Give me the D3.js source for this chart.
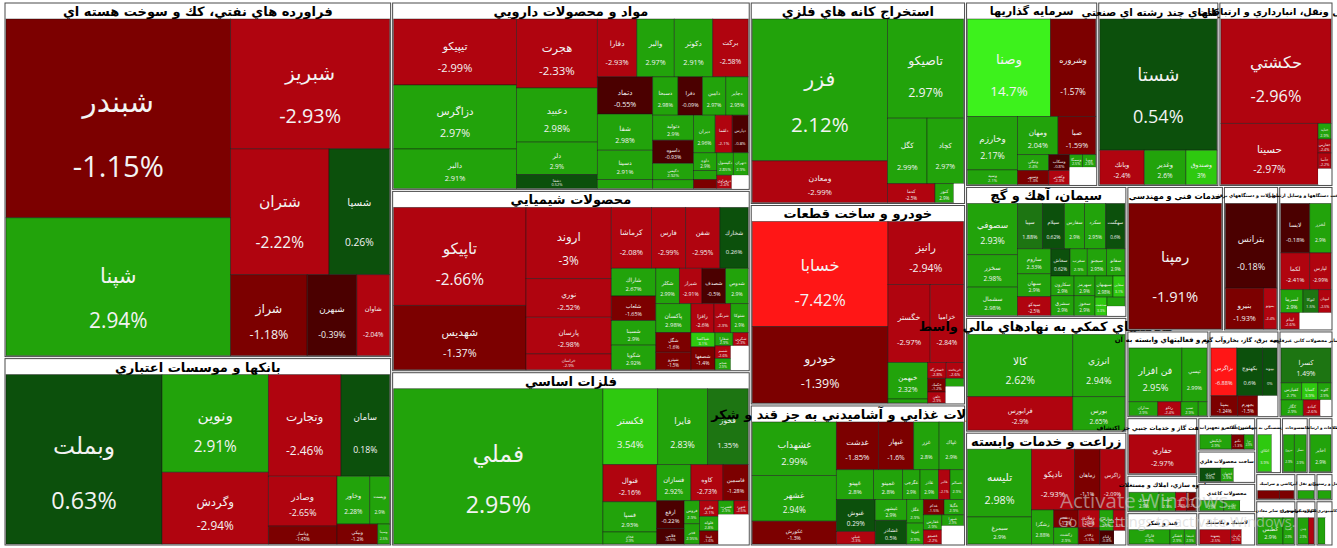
<!DOCTYPE html>
<html>
<head>
<meta charset="utf-8">
<script src="https://cdn.jsdelivr.net/npm/d3@7"></script>
<style>
  html, body { margin: 0; padding: 0; background: #fff; }
  svg { display: block; }
</style>
</head>
<body>
<svg id="map" width="1337" height="548"></svg>
<script>
// Market map treemap: sectors with a header band, one cell per symbol,
// area = market weight, colour = daily change bin.

const sectorNames = [
  "فراورده هاي نفتي، كك و سوخت هسته اي",
  "بانكها و موسسات اعتباري",
  "مواد و محصولات دارويي",
  "محصولات شيميايي",
  "فلزات اساسي",
  "استخراج كانه هاي فلزي",
  "خودرو و ساخت قطعات",
  "محصولات غذايي و آشاميدني به جز قند و شكر",
  "سرمايه گذاريها",
  "شركتهاي چند رشته اي صنعتي",
  "حمل ونقل، انبارداري و ارتباطات",
  "سيمان، آهك و گچ",
  "فعاليتهاي كمكي به نهادهاي مالي واسط",
  "زراعت و خدمات وابسته",
  "خدمات فني و مهندسي",
  "ماشين آلات و دستگاههاي برقي",
  "ساخت دستگاهها و وسايل ارتباطي",
  "رايانه و فعاليتهاي وابسته به آن",
  "عرضه برق، گاز، بخاروآب گرم",
  "ساير محصولات كاني غيرفلزي",
  "استخراج نفت گاز و خدمات جنبي جز اكتشاف",
  "انبوه سازي، املاك و مستغلات",
  "قند و شكر",
  "ماشين آلات و تجهيزات",
  "ساخت محصولات فلزي",
  "محصولات كاغذي",
  "لاستيك و پلاستيك",
  "بيمه وصندوق بازنشستگي به جزتامين اجتماعي",
  "منسوجات",
  "اطلاعات و ارتباطات",
  "كاشي و سراميك",
  "استخراج ساير معادن",
  "حمل و نقل آبي",
  "محصولات چوبي",
  "هتل و رستوران",
  "توليد محصولات كامپيوتري الكترونيكي ونوري"
];

// total weight of each sector block (header included)
const sectorSizes = [136611, 72369, 66946, 64440, 61934, 43215, 42785, 30100, 24156, 22143,
  20862, 20930, 18354, 18193, 13824, 7920, 7776, 7052, 6020, 4644, 4047, 2627, 2343,
  1914, 1856, 1682, 1914, 1425, 1485, 1375, 1080, 1800, 540, 900, 459, 765];

// how many sectors go in each strip (+ = column on the left, - = row on top)
const rootPlan = [2, 3, 3, -3, 3, -3, -3, 3, 4, -3, 2, 2, 2];

// [symbol, weight, change %]; an empty symbol is unused space
const oilCells = [["شبندر", 44974, -1.15], ["شپنا", 31188, 2.94], ["شبريز", 20800, -2.93],
  ["شتران", 12474, -2.22], ["شسپا", 7686, 0.26], ["شراز", 6237, -1.18], ["شبهرن", 4050, -0.39],
  ["شاوان", 2673, -2.04]];
const bankCells = [["وبملت", 26690, 0.63], ["ونوين", 10486, 2.91], ["وگردش", 7704, -2.94],
  ["وتجارت", 7446, -2.46], ["سامان", 4998, 0.18], ["وصادر", 3450, -2.65], ["وپاسار", 1242, -1.45],
  ["وخاور", 1584, 2.28], ["وپست", 960, 2.9], ["ونيكي", 820, -1.2], ["وسينا", 240, 2.5]];
const pharmaCells = [["تيپيكو", 8241, -2.99], ["دزاگرس", 7995, 2.97], ["دالبر", 4920, 2.91],
  ["هجرت", 5670, -2.33], ["دعبيد", 4455, 2.98], ["دلر", 2673, 2.9], ["دشفا", 1134, 0.52],
  ["دفارا", 2320, -2.93], ["والبر", 2204, 2.97], ["دكوثر", 2262, 2.91], ["بركت", 2088, -2.58],
  ["دتماد", 2090, -0.55], ["شفا", 2035, 2.98], ["دسينا", 1650, 2.91], ["دروز", 495, 2.94],
  ["دسبحا", 988, 2.98], ["دفرا", 950, -0.09], ["دامين", 912, 2.97], ["دجابر", 874, 2.95],
  ["دتوليد", 1040, 2.9], ["داسوه", 960, -0.93], ["دكيمي", 680, 2.92], ["دپخش", 360, 2.9],
  ["ديران", 828, 2.96], ["دلقما", 648, -2.1], ["دپارس", 612, -0.8],
  ["داوه", 420, 2.9], ["دابور", 210, 2.88], ["درازك", 210, -1.5],
  ["دكپسول", 380, 2.85], ["دتهران", 340, 2.9], ["دزهراوي", 200, -2.4], ["", 220, null]];
const chemCells = [["تاپيكو", 13068, -2.66], ["شهديس", 8580, -1.37],
  ["اروند", 6120, -3], ["نوري", 3315, -2.52], ["پارسان", 3145, -2.98], ["خراسان", 1360, -2.9],
  ["كرماشا", 2460, -2.08], ["فارس", 2100, -2.99], ["شفن", 2100, -2.95], ["شخارك", 1740, 0.26],
  ["شاراك", 1240, 2.67], ["شلعاب", 1100, -1.65], ["شسينا", 1100, 2.9], ["شگويا", 1100, 2.92],
  ["شكلر", 840, 2.99], ["شيراز", 805, -2.91], ["شصدف", 840, -0.5], ["شدوص", 805, 2.9],
  ["پاكسان", 1020, 2.98], ["شگل", 700, -1.6], ["شپترو", 620, -1.5],
  ["رافزا", 675, -2.6], ["شرنگي", 486, -2.3], ["شتوكا", 513, 2.9],
  ["شپاكسا", 345, 3.1], ["شصفها", 552, -1.4], ["شفارا", 240, 2.9], ["شكربن", 200, -2.3],
  ["شسم", 200, -2.6], ["شجم", 180, 2.9], ["", 420, null]];
const metalCells = [["فملي", 33127, 2.95],
  ["فكستر", 4235, 3.54], ["فايرا", 3850, 2.83], ["فخوز", 3157, 1.35],
  ["فنوال", 2035, -2.16], ["فسپا", 1650, 2.93], ["فجام", 660, 2.9],
  ["فسازان", 1258, 2.92], ["كاوه", 1184, -2.73], ["فاسمين", 925, -1.28],
  ["ارفع", 783, -0.22], ["فلامي", 435, -0.5],
  ["فروس", 360, 2.9], ["فجر", 315, 2.95], ["فالوم", 300, -2.1], ["فلوله", 280, 2.8],
  ["فپنتا", 250, -1.6], ["فسرب", 220, 2.9], ["فنورد", 200, -2.5], ["", 900, null]];
const miningCells = [["فزر", 19591, 2.12], ["ومعادن", 5754, -2.99], ["تاصيكو", 7700, 2.97],
  ["كگل", 2640, 2.99], ["كچاد", 2442, 2.97], ["كدما", 912, -2.5], ["كنور", 361, 2.9], ["", 190, null]];
const autoCells = [["خسابا", 14522, -7.42], ["خودرو", 10549, -1.39], ["رانيز", 4851, -2.94],
  ["خگستر", 3354, -2.97], ["خزاميا", 2652, -2.84], ["خبهمن", 1480, 2.32], ["خكار", 160, 2.9],
  ["خمحركه", 300, -2.8], ["خريخت", 280, -2.6], ["خكمك", 250, -1.2], ["خاهن", 200, -2.9],
  ["خفنر", 150, 2.9], ["", 300, null]];
const foodCells = [["غشهداب", 4536, 2.99], ["غشهر", 3864, 2.94], ["غكورش", 1932, -1.3],
  ["غدشت", 2021, -1.85], ["غبهار", 1692, -1.6], ["غزر", 1222, 2.8], ["غپاك", 1175, 2.9],
  ["غپينو", 1116, 2.8], ["غمينو", 870, 2.8], ["غگرجي", 522, 2.9], ["غاذر", 551, 2.9],
  ["غالبر", 348, -2.1], ["غسالم", 406, 2.9],
  ["غنوش", 1250, 0.29], ["غنيلي", 489, -2.3],
  ["غبشهر", 660, 2.9], ["غشاذر", 750, 0.5],
  ["غگل", 396, 2.9], ["غويتا", 350, 2.9], ["غدام", 320, -1.5], ["غگيلا", 300, 2.9],
  ["غفارس", 280, 2.9], ["غصينو", 260, -2.2], ["غمهرا", 240, 2.9], ["", 400, null]];
const investCells = [["وصنا", 8330, 14.7], ["وشروره", 4554, -1.57], ["وخارزم", 2750, 2.17],
  ["وسپه", 750, 2.1], ["ومهان", 1596, 2.04], ["صبا", 1482, -1.59], ["ونيكي", 510, 2.4],
  ["وسپهر", 450, -1.3], ["وسكاب", 340, -0.8], ["وكغدير", 300, -2.3], ["وسمگا", 170, 2.5],
  ["وپويا", 170, 2.9], ["", 465, null]];
const multiCells = [["شستا", 16226, 0.54], ["وبانك", 1610, -2.4], ["وغدير", 1505, 2.6], ["وصندوق", 1120, 3]];
const transportCells = [["حكشتي", 11766, -2.96], ["حسينا", 6076, -2.97], ["حتايد", 208, 2.9],
  ["حفارس", 182, -2.4], ["حآسا", 208, -2.2], ["", 208, null]];
const cementCells = [["سصوفي", 2352, 2.93], ["سخزر", 1488, 2.98], ["سشمال", 1296, 2.98],
  ["سپيا", 1040, 1.88], ["سيلام", 920, 0.62], ["سفارس", 840, 2.9], ["سكرد", 880, 2.95], ["سهگمت", 800, 0.6],
  ["ساروم", 768, 2.33], ["سبهان", 704, 2.9], ["سيدكو", 576, -2.5],
  ["سخاش", 480, 0.62], ["سغرب", 430, 2.9], ["سبجنو", 480, 2.95], ["سفانو", 460, 2.9],
  ["سكارون", 420, 2.9], ["سشرق", 420, 2.9],
  ["سهرمز", 380, 2.9], ["سخوز", 380, 2.9], ["سبهبهان", 350, 2.98], ["سقاين", 230, 3.1],
  ["سدشت", 200, 3.3], ["سكرما", 150, 2.9], ["", 150, null]];
const finCells = [["كالا", 6955, 2.62], ["فرابورس", 3745, -2.9], ["انرژي", 3445, 2.94], ["بورس", 1855, 2.65]];
const agriCells = [["تليسه", 4500, 2.98], ["سيمرغ", 1800, 2.9], ["ناديكو", 2700, -2.93],
  ["زماهان", 1620, -1.1], ["زاگرس", 1560, -2.09], ["زشگزا", 783, 2.88], ["زدشت", 450, -1.2],
  ["زكشت", 420, 2.9], ["زملارد", 400, -2.4], ["زفجر", 350, -1.1], ["زپارس", 300, 2.9],
  ["زبينا", 250, -2.5], ["زقيام", 200, -0.8], ["", 150, null]];
const techCells = [["رمپنا", 11970, -1.91]];
const elecCells = [["بترانس", 4675, -0.18], ["بنيرو", 1681, -1.93], ["بموتو", 574, -2.4]];
const instrCells = [["لابسا", 1410, -0.18], ["لخزر", 1034, 2.9], ["لكما", 1050, -2.41],
  ["لپارس", 770, -2.99], ["لسرما", 506, 2.9], ["لتوكا", 352, 1.5], ["لبوتان", 286, -2.5],
  ["لپيام", 300, -2.6], ["", 500, null]];
const computerCells = [["فن افزار", 2970, 2.95], ["تپسي", 1404, 2.99], ["مداران", 420, 2.9],
  ["رتكو", 336, -2.4], ["سپ", 252, 2.9], ["افرانت", 126, 2.9]];
const utilCells = [["بزاگرس", 1296, -6.88], ["بكهنوج", 1296, 0.6], ["بپيوند", 720, 0],
  ["بمپنا", 560, -1.24], ["بجهرم", 420, -1.5], ["", 400, null]];
const nonmetalCells = [["كسرا", 2067, 1.49], ["كفپارس", 418, 2.7], ["كساپا", 323, 3.9],
  ["كلوند", 266, 2.9], ["كگاز", 418, 2.9], ["كباده", 320, -2.6], ["", 200, null]];
const oilextCells = [["حفاري", 2870, -2.97]];
const buildCells = [["ثشرق", 660, 2.9], ["ثنوسا", 360, 2.9], ["ثاخت", 240, -2.3], ["ثعمرا", 200, -1.2]];
const sugarCells = [["قاراك", 731, 2.9], ["قشكر", 255, 2.9], ["قنيشا", 204, 2.9]];
const machineCells = [["تاپكيش", 528, 2.9], ["تكنو", 208, -1.3], ["تيرا", 160, 2.9]];
const metalProdCells = [["فنرژي", 312, 0.5], ["فجهان", 195, 2.9], ["", 300, null]];
const paperCells = [["چكاپا", 350, 2.9], ["چكارن", 238, 2.9], ["", 200, null]];
const rubberCells = [["پسهند", 510, -2.5], ["پكرمان", 180, -2.7], ["", 200, null]];
const insureCells = [["اتكاي", 544, 3.9], ["", 300, null]];
const textileCells = [["نبروج", 408, 2.9], ["نساز", 442, 2.9]];
const ictCells = [["اخابر", 816, 2.9]];
const tileCells = [["كسعدي", 252, -1.5], ["كپارس", 168, -1.2]];
const mineOtherCells = [["كطبس", 700, 2.9], ["كمينا", 300, 2.9]];
const shipCells = [["حكشت", 200, 2.9]];
const woodCells = [["چدن", 300, 2.9], ["چفيبر", 150, -2.3]];
const hotelCells = [["گردش", 180, 2.9]];
const electronicCells = [["ژيو", 250, 2.9], ["", 200, null]];

const sectorCells = [oilCells, bankCells, pharmaCells, chemCells, metalCells, miningCells,
  autoCells, foodCells, investCells, multiCells, transportCells, cementCells, finCells,
  agriCells, techCells, elecCells, instrCells, computerCells, utilCells, nonmetalCells,
  oilextCells, buildCells, sugarCells, machineCells, metalProdCells, paperCells, rubberCells,
  insureCells, textileCells, ictCells, tileCells, mineOtherCells, shipCells, woodCells,
  hotelCells, electronicCells];

const sectorPlans = [[2, -1, -2, -3], [1, 2, -2, 2, -2, 1, 1], [3, 4, -4, 4, -4, 4, -3, 3],
  [2, 4, -4, 4, -4, 3, -3], [1, -3, 3, -3, 2], [2, -1, -2, 1, 1, 1], [2, -1, -2, 2],
  [3, -4, -6, 2, 2], [-2, 2, -2, 2], [-1, -3], [-1, 1, 4], [3, -5, 3, -4, 2], [2, 2],
  [2, -3], [], [-1, 1, 1], [-2, -2, -3], [-2, -4], [-3, -3], [-1, -3, -3], [], [-4], [-3],
  [-3], [-3], [-3], [-3], [1, 1], [1, 1], [], [1, 1], [1, 1], [], [-2], [], [1, 1]];

// colour bins for daily change
function colorOf(c) {
  if (c === null) return '#ffffff';
  if (c <= -4) return '#ff1616';
  if (c <= -2) return '#b0040f';
  if (c <= -1) return '#7c0000';
  if (c < 0) return '#4b0000';
  if (c < 1) return '#0c500c';
  if (c < 2) return '#1d7512';
  if (c < 3) return '#22a30b';
  if (c < 5) return '#2ec90f';
  return '#3df21c';
}
const fmtPct = (c) => `${Math.round(c * 100) / 100}%`;

const sectors = sectorNames.map((name, i) => ({
  name,
  size: sectorSizes[i],
  plan: sectorPlans[i],
  children: sectorCells[i].map(([n, v, c]) => ({ name: n, value: v, change: c })),
}));

const root = d3.hierarchy({ name: 'root', plan: rootPlan, children: sectors })
  .sum((d) => (d.children ? 0 : d.value));
// a sector block also carries its header band
root.children.forEach((s) => { s.value = s.data.size; });

// strips in the given order, squarify whatever is left over
const squarify = d3.treemapSquarify.ratio(1);
function planTile(node, x0, y0, x1, y1) {
  const kids = node.children;
  let value = d3.sum(kids, (c) => c.value);
  let i = 0;
  for (const step of node.data.plan || []) {
    const row = kids.slice(i, i + Math.abs(step));
    const s = d3.sum(row, (c) => c.value);
    const part = { children: row, value: s };
    if (step > 0) {
      const xe = x0 + (x1 - x0) * s / value;
      d3.treemapSlice(part, x0, y0, xe, y1);
      x0 = xe;
    } else {
      const ye = y0 + (y1 - y0) * s / value;
      d3.treemapDice(part, x0, y0, x1, ye);
      y0 = ye;
    }
    value -= s;
    i += row.length;
  }
  if (i < kids.length) squarify({ children: kids.slice(i), value }, x0, y0, x1, y1);
}

d3.treemap()
  .tile(planTile)
  .size([1327, 542])
  .paddingInner((d) => (d.depth === 0 ? 2 : 0))
  .paddingTop((d) => (d.depth === 1 ? 16 : 0))
  .paddingLeft((d) => (d.depth === 1 ? 1 : 0))
  .paddingRight((d) => (d.depth === 1 ? 1 : 0))
  .paddingBottom((d) => (d.depth === 1 ? 1 : 0))(root);

const svg = d3.select('#map');
const g = svg.append('g').attr('transform', 'translate(5,3)');

for (const sec of root.children) {
  const sg = g.append('g');
  const sw = sec.x1 - sec.x0, sh = sec.y1 - sec.y0;
  sg.append('rect')
    .attr('x', sec.x0).attr('y', sec.y0)
    .attr('width', sw).attr('height', sh)
    .attr('fill', '#fff')
    .attr('stroke', '#4a4a4a')
    .attr('stroke-width', 1);

  // header size follows the block width, capped for the big sectors
  const hfs = Math.max(4, Math.min(13, sw / 11.5));
  sg.append('text')
    .attr('x', (sec.x0 + sec.x1) / 2)
    .attr('y', sec.y0 + 8.5)
    .attr('text-anchor', 'middle')
    .attr('dominant-baseline', 'central')
    .style('font-family', '"DejaVu Sans", sans-serif')
    .style('font-weight', 'bold')
    .style('font-size', `${hfs}px`)
    .attr('fill', '#000')
    .text(sec.data.name);

  const cells = sg.selectAll('g.cell')
    .data(sec.children)
    .join('g')
    .attr('class', 'cell');

  cells.append('rect')
    .attr('x', (d) => d.x0).attr('y', (d) => d.y0)
    .attr('width', (d) => Math.max(0, d.x1 - d.x0))
    .attr('height', (d) => Math.max(0, d.y1 - d.y0))
    .attr('fill', (d) => colorOf(d.data.change))
    .attr('stroke', (d) => (d.data.name ? 'rgba(20,20,20,0.55)' : 'none'))
    .attr('stroke-width', 0.8);

  cells.filter((d) => d.data.name && d.x1 - d.x0 >= 9 && d.y1 - d.y0 >= 10)
    .each(function (d) {
      const w = d.x1 - d.x0, h = d.y1 - d.y0;
      const fs = Math.min(2 + Math.min(w, h) / 7.3, w / 3.4);
      const cx = (d.x0 + d.x1) / 2;
      const cg = d3.select(this);
      cg.append('text')
        .attr('x', cx).attr('y', d.y0 + h * 0.42)
        .attr('text-anchor', 'middle')
        .attr('dominant-baseline', 'central')
        .style('font-family', '"DejaVu Sans", sans-serif')
        .style('font-size', `${fs}px`)
        .attr('fill', '#f3f3f3')
        .text(d.data.name);
      cg.append('text')
        .attr('x', cx).attr('y', d.y0 + h * 0.74)
        .attr('text-anchor', 'middle')
        .attr('dominant-baseline', 'central')
        .style('font-family', '"Open Sans", sans-serif')
        .style('font-size', `${fs}px`)
        .attr('fill', '#f3f3f3')
        .text(fmtPct(d.data.change));
    });
}

// screenshot watermark
const wm = svg.append('g').attr('fill', '#d0d0d0').attr('fill-opacity', 0.6)
  .style('font-family', '"Open Sans", sans-serif');
wm.append('text').attr('x', 1060).attr('y', 508).style('font-size', '20.5px').text('Activate Windows');
wm.append('text').attr('x', 1058).attr('y', 527).style('font-size', '14.5px').text('Go to Settings to activate Windows.');
</script>
</body>
</html>
